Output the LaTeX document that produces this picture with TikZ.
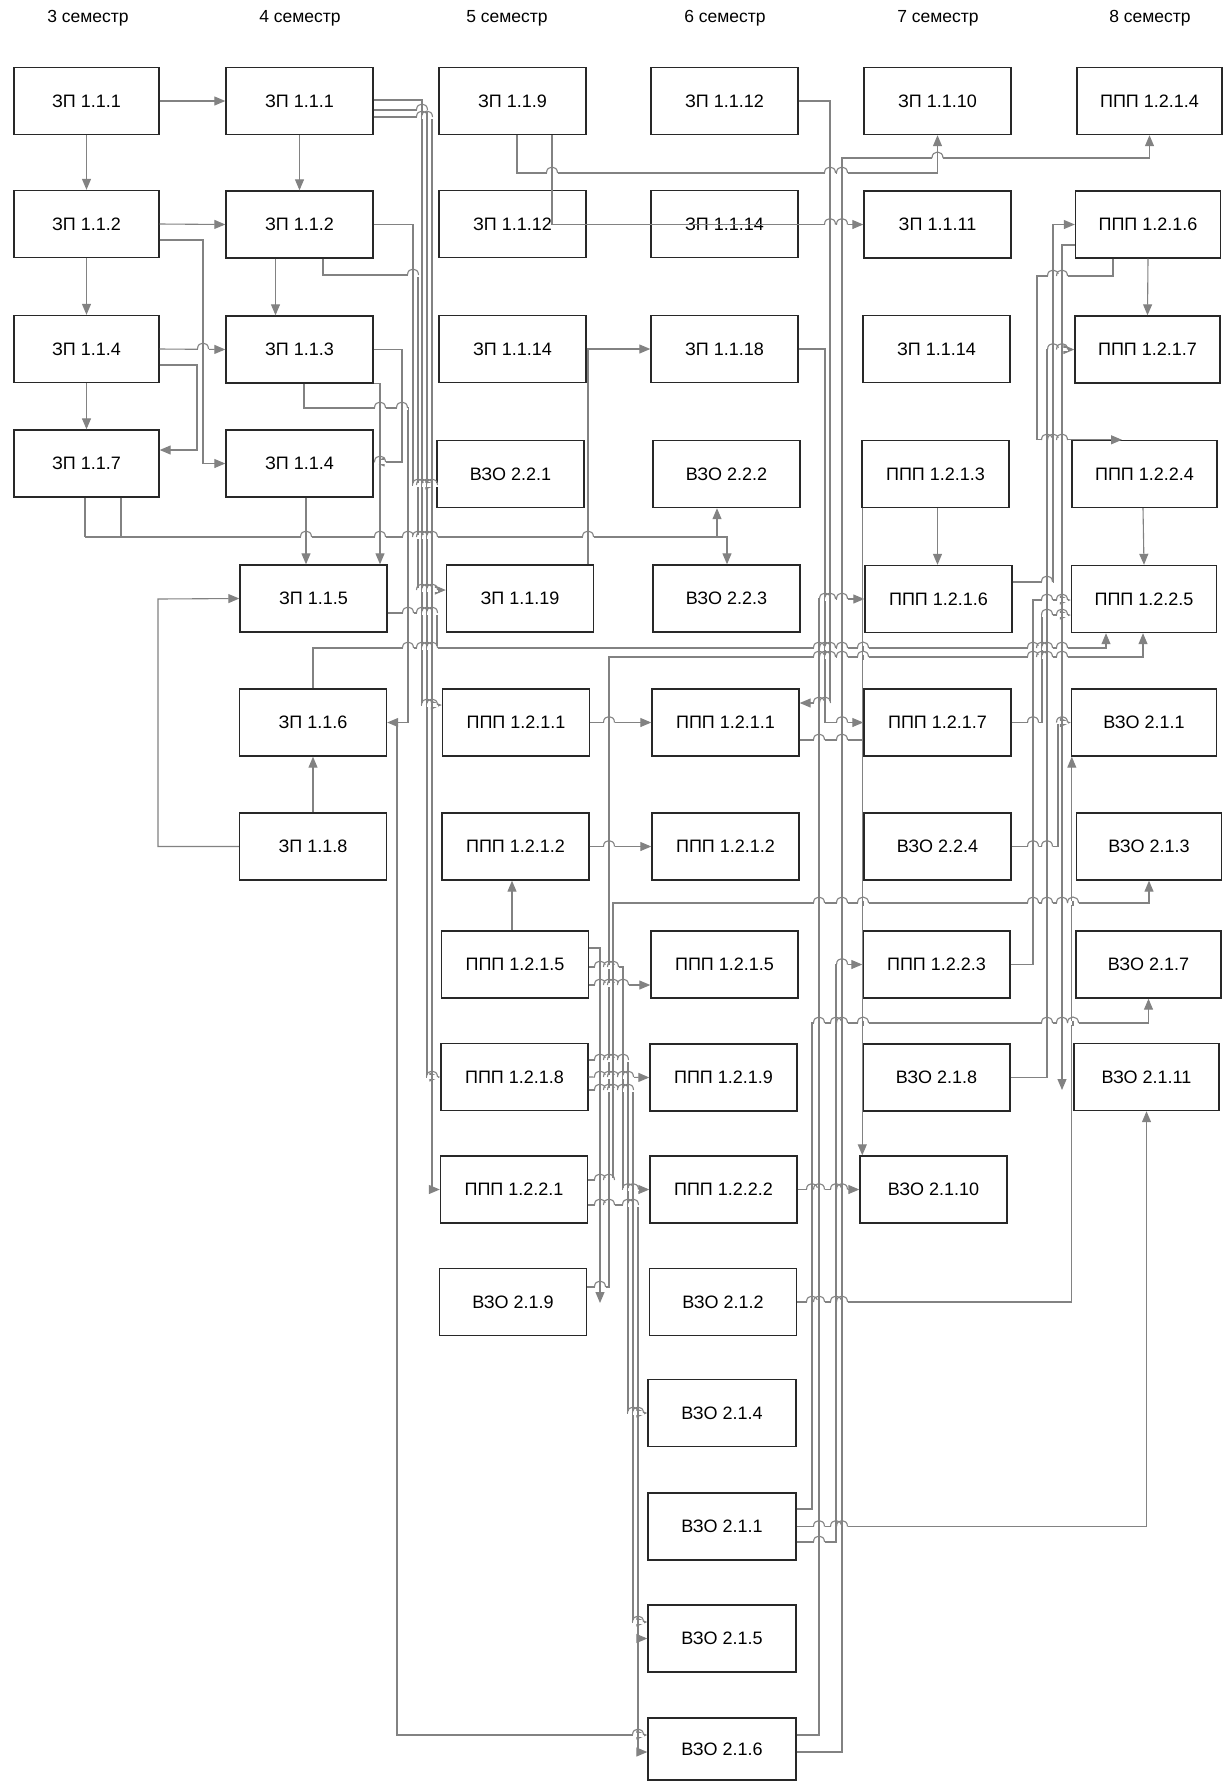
\documentclass[tikz,border=0pt]{standalone}
\usepackage{fontspec}
\setmainfont{Liberation Sans}
\usetikzlibrary{arrows.meta}
\definecolor{lc}{RGB}{130,130,130}
\definecolor{bc}{RGB}{40,40,40}
\tikzset{
  box/.style={draw=bc, line width=1.4pt, fill=white, minimum width=147pt, minimum height=67pt, inner sep=0pt, font=\fontsize{18}{20}\selectfont},
  hdr/.style={font=\fontsize{17.5}{20}\selectfont, inner sep=0pt},
  conn/.style={draw=lc, line width=1.1pt},
  arr/.style={conn, -{Triangle[length=11pt,width=9pt]}},
}
\newcommand\hopx[2]{%
  \fill[white] (#1-5.5,#2-1.7) rectangle (#1+5.5,#2+1.7);
  \draw[conn] (#1,#2-2.5) -- (#1,#2+2.5);
  \draw[conn] (#1-5.5,#2) .. controls (#1-5.5,#2-8) and (#1+5.5,#2-8) .. (#1+5.5,#2);}
\begin{document}
\begin{tikzpicture}[x=1pt,y=-1pt]
\fill[white] (0,0) rectangle (1223,1781);
\useasboundingbox (0,0) rectangle (1223,1781);
% headers
\node[hdr] (h3) at (88,18) {3 семестр};
\node[hdr] (h4) at (300,18) {4 семестр};
\node[hdr] (h5) at (507,18) {5 семестр};
\node[hdr] (h6) at (725,18) {6 семестр};
\node[hdr] (h7) at (938,18) {7 семестр};
\node[hdr] (h8) at (1150,18) {8 семестр};
% column 1
\node[box,minimum width=145pt] (a311) at (86.5,101) {ЗП 1.1.1};
\node[box,minimum width=145pt] (a312) at (86.5,224) {ЗП 1.1.2};
\node[box,minimum width=145pt] (a314) at (86.5,349) {ЗП 1.1.4};
\node[box,minimum width=145pt] (a317) at (86.5,463.5) {ЗП 1.1.7};
% column 2
\node[box] (b411) at (299.5,101) {ЗП 1.1.1};
\node[box] (b412) at (299.5,224.5) {ЗП 1.1.2};
\node[box] (b413) at (299.5,349.5) {ЗП 1.1.3};
\node[box] (b414) at (299.5,463.5) {ЗП 1.1.4};
\node[box] (b415) at (313.5,598.5) {ЗП 1.1.5};
\node[box] (b416) at (313,722.5) {ЗП 1.1.6};
\node[box] (b418) at (313,846.5) {ЗП 1.1.8};
% column 3
\node[box] (c519) at (512.5,101) {ЗП 1.1.9};
\node[box] (c5112) at (512.5,224) {ЗП 1.1.12};
\node[box] (c5114) at (512.5,349) {ЗП 1.1.14};
\node[box] (c5221) at (510.5,474) {ВЗО 2.2.1};
\node[box] (c5119) at (520,598.5) {ЗП 1.1.19};
\node[box] (c51211) at (516,722.5) {ППП 1.2.1.1};
\node[box] (c51212) at (515.5,846.5) {ППП 1.2.1.2};
\node[box] (c51215) at (515,964.5) {ППП 1.2.1.5};
\node[box] (c51218) at (514.5,1077) {ППП 1.2.1.8};
\node[box] (c51221) at (514,1189.5) {ППП 1.2.2.1};
\node[box] (c5219) at (513,1302) {ВЗО 2.1.9};
% column 4
\node[box] (d6112) at (724.5,101) {ЗП 1.1.12};
\node[box] (d6114) at (724.5,224) {ЗП 1.1.14};
\node[box] (d6118) at (724.5,349) {ЗП 1.1.18};
\node[box] (d6222) at (726.5,474) {ВЗО 2.2.2};
\node[box] (d6223) at (726.5,598.5) {ВЗО 2.2.3};
\node[box] (d61211) at (725.5,722.5) {ППП 1.2.1.1};
\node[box] (d61212) at (725.5,846.5) {ППП 1.2.1.2};
\node[box] (d61215) at (724.5,964.5) {ППП 1.2.1.5};
\node[box] (d61219) at (723.5,1077.5) {ППП 1.2.1.9};
\node[box] (d61222) at (723.5,1189.5) {ППП 1.2.2.2};
\node[box] (d6212) at (723,1302) {ВЗО 2.1.2};
\node[box,minimum width=148pt] (d6214) at (722,1413) {ВЗО 2.1.4};
\node[box,minimum width=148pt] (d6211) at (722,1526.5) {ВЗО 2.1.1};
\node[box,minimum width=148pt] (d6215) at (722,1638.5) {ВЗО 2.1.5};
\node[box,minimum width=148pt,minimum height=62pt] (d6216) at (722,1749) {ВЗО 2.1.6};
% column 5
\node[box] (e7110) at (937.5,101) {ЗП 1.1.10};
\node[box] (e7111) at (937.5,224.5) {ЗП 1.1.11};
\node[box] (e7114) at (936.5,349) {ЗП 1.1.14};
\node[box] (e71213) at (935.5,474) {ППП 1.2.1.3};
\node[box] (e71216) at (938.5,599) {ППП 1.2.1.6};
\node[box] (e71217) at (937.5,722.5) {ППП 1.2.1.7};
\node[box] (e7224) at (937.5,846.5) {ВЗО 2.2.4};
\node[box] (e71223) at (936.5,964.5) {ППП 1.2.2.3};
\node[box] (e7218) at (936.5,1077.5) {ВЗО 2.1.8};
\node[box] (e72110) at (933.5,1189.5) {ВЗО 2.1.10};
% column 6
\node[box,minimum width=145pt] (f81214) at (1149.5,101) {ППП 1.2.1.4};
\node[box,minimum width=145pt] (f81216) at (1148,224.5) {ППП 1.2.1.6};
\node[box,minimum width=145pt] (f81217) at (1147.5,349.5) {ППП 1.2.1.7};
\node[box,minimum width=145pt] (f81224) at (1144.5,474) {ППП 1.2.2.4};
\node[box,minimum width=145pt] (f81225) at (1144,599) {ППП 1.2.2.5};
\node[box,minimum width=145pt] (f8211) at (1144,722.5) {ВЗО 2.1.1};
\node[box,minimum width=145pt] (f8213) at (1149,846.5) {ВЗО 2.1.3};
\node[box,minimum width=145pt] (f8217) at (1148.5,964.5) {ВЗО 2.1.7};
\node[box,minimum width=145pt] (f82111) at (1146.5,1077) {ВЗО 2.1.11};
% junction / free-end coordinates
\coordinate (j537) at (85,537);
\coordinate (j537b) at (717,537);
\coordinate (j723) at (397,722.5);
\coordinate (j1638) at (638,1638.5);
\coordinate (dang1) at (600,1303);
\coordinate (dang2) at (1062,1090);
% ---- connectors: columns 1-2
\draw[arr] (a311.east) -- (b411.west);
\draw[arr] (a311.south) -- (a312.north);
\draw[arr] (a312.east) -- (b412.west);
\draw[arr] (a312.south) -- (a314.north);
\draw[arr] (a314.south) -- (a317.north);
\draw[arr] (b411.south) -- (b412.north);
\draw[arr] ([xshift=-24]b412.south) -- ([xshift=-24]b413.north);
\draw[arr] (a314.east) -- (b413.west);
\draw[arr] ([yshift=-16]a314.east) -| (197,450) -- ([yshift=13.5]a317.east);
\draw[arr] ([yshift=-16]a312.east) -| (203,463.5) -- (b414.west);
\draw[arr] ([xshift=6.5]b414.south) -- ([xshift=-7.5]b415.north);
\draw[arr] (b413.south east) -| ([xshift=66.5]b415.north);
\draw[arr] ([xshift=4.5]b413.south) |- (408,408) |- (b416.east);
\draw[arr] (j723) |- ([yshift=14]d6216.west);
\draw[arr] (b413.east) -| (402,440) |- ([yshift=1.5]b414.east);
\draw[arr] (b418.north) -- (b416.south);
\draw[arr] (b418.west) -| (158,599) -- (b415.west);
\draw[conn] ([xshift=-1.5]a317.south) -- (j537);
\draw[conn] ([xshift=34.5]a317.south) -- (121,537);
\draw[arr] (j537) -| ([xshift=-9.5]d6222.south);
\draw[arr] (j537b) -| ([xshift=0.5]d6223.north);
% ---- columns 2-3 bundle
\draw[arr] ([yshift=1]b411.east) -| (422,705) -- ([yshift=17.5]c51211.west);
\draw[arr] ([yshift=-9]b411.east) -| (427,1077) -- (c51218.west);
\draw[arr] ([yshift=-16]b411.east) -| (432,1189.5) -- (c51221.west);
\draw[arr] (b412.east) -| (413,485) -- ([yshift=-11]c5221.west);
\draw[arr] ([xshift=23.5]b412.south) |- (418,275) |- ([yshift=8.5]c5119.west);
\draw[arr] ([yshift=-14.5]b415.east) -| (437,648) -| ([xshift=-38]f81225.south);
\draw[conn] (b416.north) |- (437,648);
% ---- columns 3-4
\draw[arr] (c5114.east) -- (d6118.west);
\draw[conn] ([xshift=68]c5119.north) -- (588,349);
\draw[arr] ([xshift=4.5]c519.south) |- (937.5,173) -- (e7110.south);
\draw[arr] ([xshift=39.5]c519.south) |- (e7111.west);
\draw[arr] (c51211.east) -- (d61211.west);
\draw[arr] (c51212.east) -- (d61212.west);
\draw[arr] ([xshift=-3]c51215.north) -- ([xshift=-3.5]c51212.south);
\draw[arr] ([yshift=-20.5]c51215.east) -- ([yshift=-20.5]d61215.west);
\draw[arr] ([yshift=16.5]c51215.east) -| (dang1);
\draw[arr] ([yshift=-2.5]c51215.east) -| (623,1189.5) -- (d61222.west);
\draw[arr] ([yshift=17]c51218.east) -| (628,1413) -- (d6214.west);
\draw[arr] (c51218.east) -- (d61219.west);
\draw[arr] ([yshift=-13]c51218.east) -| (633,1622) -- ([yshift=16.5]d6215.west);
\draw[arr] ([yshift=9.5]c51221.east) -| (613,903) -| (f8213.south);
\draw[arr] ([yshift=-15.5]c51221.east) -| (j1638) -- (d6215.west);
\draw[arr] (j1638) |- ([yshift=-3]d6216.west);
\draw[arr] ([yshift=15]c5219.east) -| (609,657) -| ([xshift=-1]f81225.south);
% ---- columns 4-5
\draw[arr] (d6112.east) -| (830,703) -- ([yshift=19.5]d61211.east);
\draw[arr] ([yshift=-3]d6216.east) -| (842,158) -| (f81214.south);
\draw[arr] (d6118.east) -| (825,722.5) -- (e71217.west);
\draw[arr] ([yshift=14]d6216.east) -| (819,599) -- (e71216.west);
\draw[arr] (d6212.east) -| ([xshift=1]f8211.south west);
\draw[arr] (d6211.east) -| (f82111.south);
\draw[arr] ([yshift=17.5]d6211.east) -| (812,1023) -| (f8217.south);
\draw[arr] ([yshift=-15.5]d6211.east) -| (836,964.5) -- (e71223.west);
\draw[arr] (d61222.east) -- (e72110.west);
\draw[conn] ([yshift=-17.5]d61211.east) -- ([yshift=-17.5]e71217.west);
% ---- column 5 and 5-6
\draw[arr] ([xshift=2]e71213.south) -- ([xshift=-1]e71216.north);
\draw[arr] ([xshift=1]e71213.south west) -- ([xshift=3]e72110.north west);
\draw[arr] ([yshift=17]e71216.east) -| (1053,224.5) -- (f81216.west);
\draw[arr] (f81216.south) -- (f81217.north);
\draw[arr] ([xshift=-35]f81216.south) |- (1037,276) |- ([xshift=-22.5]f81224.north);
\draw[arr] (e7218.east) -| (1047,349.5) -- (f81217.west);
\draw[arr] (e71223.east) -| (1033,600) -- ([yshift=-1]f81225.west);
\draw[arr] (e71217.east) -| (1042,615) -- ([yshift=-16]f81225.west);
\draw[arr] (e7224.east) -| (1058,722.5) -- (f8211.west);
\draw[arr] ([yshift=-20.5]f81216.west) -| (dang2);
\draw[arr] ([xshift=-1.5]f81224.south) -- (f81225.north);
% ---- line hops at crossings
\foreach \hx/\hy in {
  203/349, 306/537, 380/537, 408/537, 418/537, 422/537, 427/537, 432/537, 588/537,
  380/408, 402/408, 380/462, 422/110, 422/117, 427/117, 413/275,
  418/485, 422/485, 427/485, 432/485, 422/590, 427/590, 432/590,
  408/613, 422/613, 427/613, 432/613,
  408/648, 422/648, 427/648, 432/648, 819/648, 825/648, 830/648, 842/648, 863/648,
  1033/648, 1042/648, 1047/648, 1062/648,
  427/705, 432/705, 432/1077, 638/1735, 609/722.5, 609/846.5,
  552/173, 830/173, 842/173, 830/224.5, 842/224.5,
  600/985, 609/985, 613/985, 623/985, 600/967, 609/967, 613/967,
  600/1060, 609/1060, 613/1060, 623/1060,
  600/1077, 609/1077, 613/1077, 623/1077, 628/1077,
  600/1090, 609/1090, 613/1090, 623/1090, 628/1090,
  600/1180, 609/1180, 600/1205, 609/1205, 628/1205, 633/1205,
  628/1189.5, 633/1189.5, 600/1287, 633/1413, 638/1413, 638/1622,
  819/903, 842/903, 863/903, 1033/903, 1047/903, 1062/903, 1073/903,
  819/657, 825/657, 830/657, 842/657, 863/657, 1033/657, 1042/657, 1047/657, 1062/657,
  819/703, 825/703, 937.5/158, 842/722.5, 819/740, 842/740,
  825/599, 830/599, 842/599,
  812/1302, 819/1302, 836/1302, 842/1302,
  819/1526.5, 836/1526.5, 842/1526.5,
  819/1023, 836/1023, 842/1023, 863/1023, 1047/1023, 1062/1023, 1073/1023,
  819/1542, 842/964.5, 812/1189.5, 819/1189.5, 836/1189.5, 842/1189.5,
  1047/582, 1053/276, 1062/276, 1047/440, 1053/440, 1062/440,
  1053/349.5, 1062/349.5, 1047/600, 1062/600, 1033/722.5, 1047/615, 1062/615,
  1033/846.5, 1047/846.5, 1062/722.5}
  {\hopx{\hx}{\hy}}
\end{tikzpicture}
\end{document}
